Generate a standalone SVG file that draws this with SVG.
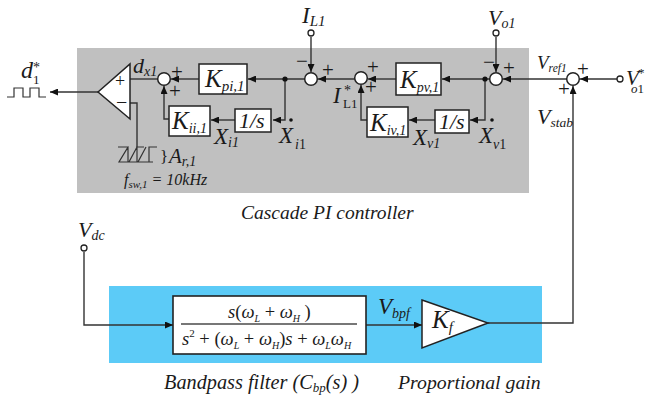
<svg xmlns="http://www.w3.org/2000/svg" width="646" height="396" viewBox="0 0 646 396">
<style>
text{font-family:"Liberation Serif","Times New Roman",serif;fill:#1a1a1a}
.i{font-style:italic}
.n{font-style:normal}
.box{fill:#fff;stroke:#222;stroke-width:1.5}
.sum{fill:#fff;stroke:#222;stroke-width:1.5}
.open{fill:#fff;stroke:#222;stroke-width:1.3}
.w{fill:none;stroke:#333;stroke-width:1.4}
.big{font-size:25px;font-style:italic}
.mid{font-size:23px;font-style:italic}
.pm{font-size:21px}
</style>
<defs>
<marker id="a" markerUnits="userSpaceOnUse" markerWidth="9" markerHeight="7" refX="8" refY="3.5" orient="auto"><path d="M0 0L8 3.5L0 7z" fill="#111"/></marker>
</defs>
<rect id="cascade-bg" x="77" y="48" width="452" height="145" fill="#c0c0c0"/>
<rect id="filter-bg" x="109" y="286" width="433" height="77" fill="#5ccbf7"/>
<g id="connectors" class="w">
<path class="w" d="M98 92H50" marker-end="url(#a)"/>
<path class="w" d="M130 79H158"/>
<path class="w" d="M130 103H137V147"/>
<path class="w" d="M311 79H285V120H273" marker-end="url(#a)"/>
<path class="w" d="M285 79H248" marker-end="url(#a)"/>
<path class="w" d="M199 79H171" marker-end="url(#a)"/>
<path class="w" d="M235 120H211" marker-end="url(#a)"/>
<path class="w" d="M169 119H164V86" marker-end="url(#a)"/>
<path class="w" d="M355 79H318" marker-end="url(#a)"/>
<path class="w" d="M396 79H368" marker-end="url(#a)"/>
<path class="w" d="M490 79H442" marker-end="url(#a)"/>
<path class="w" d="M485 79V120H470" marker-end="url(#a)"/>
<path class="w" d="M435 120H409" marker-end="url(#a)"/>
<path class="w" d="M367 120H361V85" marker-end="url(#a)"/>
<path class="w" d="M567 79H503" marker-end="url(#a)"/>
<path class="w" d="M617 79H580" marker-end="url(#a)"/>
<path class="w" d="M311 37V72" marker-end="url(#a)"/>
<path class="w" d="M496 37V72" marker-end="url(#a)"/>
<path class="w" d="M488 323H573V86" marker-end="url(#a)"/>
<path class="w" d="M84 252V325H173" marker-end="url(#a)"/>
<path class="w" d="M366 325H422" marker-end="url(#a)"/>
<path class="w" d="M7 97H14V88H23V97H30V88H39V97H46" style="stroke-width:1.2"/>
<path class="w" d="M118 147H128L119 162H128V147M137 147L129 162H137V147H144M146 147L138 162H149V147H157M149 162H153" style="stroke-width:1.2"/>
</g>
<circle cx="285" cy="79" r="2.6" fill="#111"/>
<circle cx="485" cy="79" r="2.6" fill="#111"/>
<circle cx="291" cy="120" r="1.8" fill="#111"/>
<circle cx="492" cy="120" r="1.8" fill="#111"/>
<g id="comparator">
<path d="M98 92L130 64V119Z" fill="#fff" stroke="#222" stroke-width="1.5"/>
<text x="115" y="87" font-size="18">+</text>
<text x="116" y="109" font-size="20">−</text>
</g>
<g id="kpi"><rect class="box" x="199" y="64" width="48" height="30"/><text x="205" y="87" class="big">K<tspan dy="4" font-size="15">pi,1</tspan></text></g>
<g id="kii"><rect class="box" x="169" y="106" width="41" height="30"/><text x="172" y="129" class="big">K<tspan dy="4" font-size="14">ii,1</tspan></text></g>
<g id="int-i"><rect class="box" x="235" y="109" width="36" height="23"/><text x="239" y="128" font-size="22" class="i">1/s</text></g>
<g id="kpv"><rect class="box" x="396" y="63" width="45" height="32"/><text x="400" y="88" class="big">K<tspan dy="4" font-size="14">pv,1</tspan></text></g>
<g id="kiv"><rect class="box" x="367" y="107" width="41" height="30"/><text x="370" y="131" class="big">K<tspan dy="4" font-size="14">iv,1</tspan></text></g>
<g id="int-v"><rect class="box" x="435" y="110" width="34" height="23"/><text x="439" y="129" font-size="22" class="i">1/s</text></g>
<g id="sum1"><circle class="sum" cx="164" cy="79" r="6.3"/><text x="171" y="79" class="pm">+</text><text x="169" y="98" class="pm">+</text></g>
<g id="sum2"><circle class="sum" cx="311" cy="79" r="6.3"/><text x="296" y="68" class="pm">−</text><text x="322" y="77" class="pm">+</text></g>
<g id="sum3"><circle class="sum" cx="361" cy="78" r="6.3"/><text x="367" y="74" class="pm">+</text><text x="365" y="94" class="pm">+</text></g>
<g id="sum4"><circle class="sum" cx="496" cy="79" r="6.3"/><text x="483" y="69" class="pm">−</text><text x="503" y="75" class="pm">+</text></g>
<g id="sum5"><circle class="sum" cx="573" cy="79" r="6.3"/><text x="577" y="76" class="pm">+</text><text x="558" y="96" class="pm">+</text></g>
<circle class="open" cx="311" cy="33" r="3"/>
<circle class="open" cx="496" cy="33" r="3"/>
<circle class="open" cx="620" cy="79" r="3"/>
<circle class="open" cx="84" cy="248" r="3"/>
<g id="filter"><rect x="173" y="296" width="193" height="58" fill="#fff" stroke="#222" stroke-width="1.6"/>
<path d="M181 324H357" stroke="#777" stroke-width="2"/>
<text x="228" y="318" font-size="18.5"><tspan class="i">s</tspan>(<tspan class="i">ω</tspan><tspan class="i" font-size="10" dy="4">L</tspan><tspan dy="-4"> + </tspan><tspan class="i">ω</tspan><tspan class="i" font-size="10" dy="4">H</tspan><tspan dy="-4"> )</tspan></text>
<text x="182" y="345" font-size="18.5"><tspan class="i">s</tspan><tspan font-size="11" dy="-8">2</tspan><tspan dy="8"> + (</tspan><tspan class="i">ω</tspan><tspan class="i" font-size="10" dy="4">L</tspan><tspan dy="-4"> + </tspan><tspan class="i">ω</tspan><tspan class="i" font-size="10" dy="4">H</tspan><tspan dy="-4">)</tspan><tspan class="i">s</tspan> + <tspan class="i">ω</tspan><tspan class="i" font-size="10" dy="4">L</tspan><tspan class="i" dy="-4">ω</tspan><tspan class="i" font-size="10" dy="4">H</tspan></text>
</g>
<g id="gain"><path d="M422 300L488 323L422 348Z" fill="#fff" stroke="#222" stroke-width="1.5"/><text x="432" y="328" class="big">K<tspan dy="4" font-size="15">f</tspan></text></g>
<text x="21" y="78" font-size="24" class="i">d<tspan class="n" x="33" y="72" font-size="14">*</tspan><tspan class="n" x="33" y="84" font-size="13">1</tspan></text>
<text x="133" y="73" font-size="22" class="i">d<tspan dy="3" font-size="14">x1</tspan></text>
<text x="160" y="162" font-size="17">}</text>
<text x="169" y="163" font-size="21" class="i">A<tspan dy="3" font-size="14">r,1</tspan></text>
<text x="124" y="185" font-size="16" class="i">f<tspan dy="3" font-size="11">sw,1</tspan><tspan dy="-3"> = 10kHz</tspan></text>
<text x="214" y="144" class="mid">X<tspan dy="3" font-size="14">i1</tspan></text>
<text x="279" y="143" class="mid">X<tspan x="295" y="149" font-size="14">i</tspan><tspan class="n" font-size="14">1</tspan></text>
<text x="302" y="23" class="mid">I<tspan dy="3" font-size="15">L1</tspan></text>
<text x="488" y="25" font-size="22" class="i">V<tspan dy="3" font-size="14">o1</tspan></text>
<text x="333" y="103" class="mid">I<tspan class="n" x="344" y="95" font-size="14">*</tspan><tspan class="n" x="343" y="108" font-size="13">L1</tspan></text>
<text x="413" y="145" class="mid">X<tspan dy="3" font-size="14">v1</tspan></text>
<text x="479" y="143" class="mid">X<tspan x="493" y="149" font-size="14">v</tspan><tspan class="n" font-size="14">1</tspan></text>
<text x="537" y="69" font-size="19" class="i">V<tspan dy="3" font-size="11.5">ref1</tspan></text>
<text x="537" y="124" font-size="22" class="i">V<tspan dy="3" font-size="13.5">stab</tspan></text>
<text x="626" y="85" font-size="21" class="i">V<tspan class="n" x="638" y="77" font-size="13">*</tspan><tspan x="631" y="93" font-size="13">o</tspan><tspan class="n" font-size="13">1</tspan></text>
<text x="78" y="237" font-size="22" class="i">V<tspan dy="3" font-size="14">dc</tspan></text>
<text x="378" y="314" font-size="23" class="i">V<tspan dy="4" font-size="14">bpf</tspan></text>
<text x="241" y="219" font-size="19.5" class="i">Cascade PI controller</text>
<text x="164" y="389" font-size="20.3" class="i">Bandpass filter (C<tspan dy="3" font-size="13">bp</tspan><tspan dy="-3">(s) )</tspan></text>
<text x="398" y="389" font-size="19.8" class="i">Proportional gain</text>
</svg>
